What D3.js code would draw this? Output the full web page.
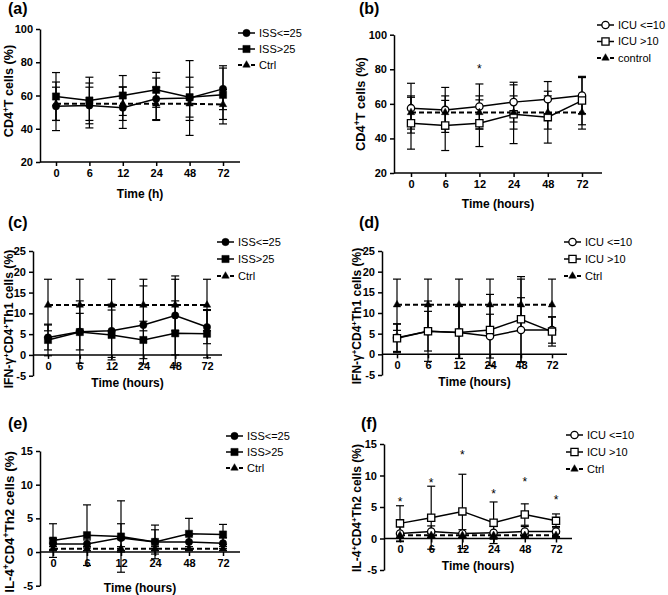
<!DOCTYPE html>
<html>
<head>
<meta charset="utf-8">
<script src="https://cdnjs.cloudflare.com/ajax/libs/d3/7.8.5/d3.min.js"></script>
<style>
  body { margin: 0; background: #fff; }
  svg { display: block; }
  text { font-family: "Liberation Sans", Arial, sans-serif; fill: #000; }
</style>
</head>
<body>
<div id="chart"></div>
<script>
'use strict';

// time points (categorical x axis)
var times = ["0", "6", "12", "24", "48", "72"];

// (a) CD4+ T cells by ISS
var aIssLow = [53.5, 54, 52.7, 58, 58.5, 64];
var aIssLowSd = [14.6, 13.5, 12.5, 12.5, 22.5, 12.5];
var aIssHigh = [59.4, 57, 60, 63.4, 59, 60.4];
var aIssHighSd = [14.4, 14, 12, 10.5, 12, 17.5];
var aCtrl = [55, 55, 55, 55, 55, 54.6];
var aCtrlSd = [10, 10, 10, 10, 10, 9];

// (b) CD4+ T cells by ICU stay
var bIcuLow = [57.5, 56.5, 58.5, 61, 62.7, 64.8];
var bIcuLowSd = [14.4, 13, 13, 11.5, 10.2, 10.4];
var bIcuHigh = [48.8, 47.5, 48.8, 54, 52.3, 61.9];
var bIcuHighSd = [15, 14.5, 13.5, 17, 15, 14];
var bCtrl = [55, 55, 55, 55, 55, 55];
var bCtrlSd = [9.6, 9.6, 9.6, 9.6, 9.6, 9.6];
var bStars = [null, null, 81.5, null, null, null];

// (c) IFN-g+ CD4+ Th1 by ISS
var cIssLow = [4.2, 5.6, 5.8, 7.2, 9.5, 6.7];
var cIssLowSd = [3.0, 4.4, 6.4, 9.4, 9.5, 4.0];
var cIssHigh = [3.6, 5.5, 4.8, 3.6, 5.2, 5.1];
var cIssHighSd = [3.8, 7.5, 6.0, 4.5, 7.8, 5.8];
var cCtrl = [12, 12, 12, 12, 12, 12];
var cCtrlSd = [6.2, 6.2, 6.2, 6.2, 6.2, 6.2];

// (d) IFN-g+ CD4+ Th1 by ICU stay
var dIcuLow = [4.0, 5.6, 5.3, 4.4, 5.9, 5.9];
var dIcuLowSd = [3.3, 4.8, 6.3, 5.3, 7.8, 3.2];
var dIcuHigh = [3.9, 5.6, 5.3, 5.9, 8.5, 5.5];
var dIcuHighSd = [3.5, 7.3, 6.3, 8.6, 10.3, 3.5];
var dCtrl = [12, 12, 12, 12, 12, 12];
var dCtrlSd = [6.2, 6.2, 6.2, 6.2, 6.2, 6.2];

// (e) IL-4+ CD4+ Th2 by ISS
var eIssLow = [1.2, 1.2, 2.1, 1.5, 1.5, 1.3];
var eIssLowSd = [0.8, 0.6, 2.1, 1.8, 1.0, 0.8];
var eIssHigh = [1.7, 2.5, 2.3, 1.5, 2.7, 2.6];
var eIssHighSd = [2.5, 4.5, 5.3, 2.5, 2.3, 1.5];
var eCtrl = [0.5, 0.5, 0.5, 0.5, 0.5, 0.5];
var eCtrlSd = [0.3, 0.3, 0.3, 0.3, 0.3, 0.3];

// (f) IL-4+ CD4+ Th2 by ICU stay
var fIcuLow = [0.8, 1.1, 0.8, 0.9, 1.1, 1.1];
var fIcuLowSd = [1.3, 0.9, 0.6, 1.0, 0.8, 0.8];
var fIcuHigh = [2.4, 3.3, 4.3, 2.5, 3.8, 2.8];
var fIcuHighSd = [2.8, 5.0, 5.9, 3.3, 1.7, 1.1];
var fCtrl = [0.5, 0.5, 0.5, 0.5, 0.5, 0.5];
var fCtrlSd = [0.3, 0.3, 0.3, 0.3, 0.3, 0.3];
var fStars = [6.2, 9.3, 13.7, 7.4, 9.4, 6.5];

var myApp = {};
myApp.w = 668;
myApp.h = 595;

var svg = d3.select("#chart").append("svg")
    .attr("width", myApp.w)
    .attr("height", myApp.h);

function ser(name, values, sd, marker, open, dashed) {
    return { name: name, values: values, sd: sd, marker: marker, open: open, dashed: dashed };
}

// title pieces: [text, isSuperscript]
var titleCD4 = [["CD4", 0], ["+", 1], ["T cells (%)", 0]];
var titleIFN = [["IFN-\u03b3", 0], ["+", 1], ["CD4", 0], ["+", 1], ["Th1 cells (%)", 0]];
var titleIL4 = [["IL-4", 0], ["+", 1], ["CD4", 0], ["+", 1], ["Th2 cells (%)", 0]];

var panels = [
    { label: "(a)", lx: 8, ly: 14, x0: 40, x1: 240, p0: 56, p1: 223, yTop: 29, yBot: 162,
      dom: [20, 100], ticks: [20, 40, 60, 80, 100], axisAt: 20,
      xt: "Time (h)", xtY: 198, yt: titleCD4, ytX: 12.5, ytY: 91, ytSize: 12.6,
      leg: { x: 238, y: 33, dy: 16 }, stars: null,
      series: [ser("ISS<=25", aIssLow, aIssLowSd, d3.symbolCircle, false, false),
               ser("ISS>25", aIssHigh, aIssHighSd, d3.symbolSquare, false, false),
               ser("Ctrl", aCtrl, aCtrlSd, d3.symbolTriangle, false, true)] },
    { label: "(b)", lx: 359, ly: 14, x0: 394, x1: 602, p0: 411, p1: 582, yTop: 34.7, yBot: 173,
      dom: [20, 100], ticks: [20, 40, 60, 80, 100], axisAt: 20,
      xt: "Time (hours)", xtY: 208, yt: titleCD4, ytX: 365, ytY: 104, ytSize: 12.8,
      leg: { x: 597, y: 25, dy: 16.5 }, stars: bStars,
      series: [ser("ICU <=10", bIcuLow, bIcuLowSd, d3.symbolCircle, true, false),
               ser("ICU >10", bIcuHigh, bIcuHighSd, d3.symbolSquare, true, false),
               ser("control", bCtrl, bCtrlSd, d3.symbolTriangle, false, true)] },
    { label: "(c)", lx: 8, ly: 228, x0: 33, x1: 222, p0: 48, p1: 207, yTop: 251, yBot: 375.7,
      dom: [-5, 25], ticks: [-5, 0, 5, 10, 15, 20, 25], axisAt: 0,
      xt: "Time (hours)", xtY: 387, yt: titleIFN, ytX: 13, ytY: 319, ytSize: 12.2,
      leg: { x: 217, y: 242, dy: 17 }, stars: null,
      series: [ser("ISS<=25", cIssLow, cIssLowSd, d3.symbolCircle, false, false),
               ser("ISS>25", cIssHigh, cIssHighSd, d3.symbolSquare, false, false),
               ser("Ctrl", cCtrl, cCtrlSd, d3.symbolTriangle, false, true)] },
    { label: "(d)", lx: 359, ly: 228, x0: 382, x1: 567, p0: 397, p1: 552, yTop: 251, yBot: 375,
      dom: [-5, 25], ticks: [-5, 0, 5, 10, 15, 20, 25], axisAt: 0,
      xt: "Time (hours)", xtY: 386, yt: titleIFN, ytX: 361, ytY: 316, ytSize: 12,
      leg: { x: 564, y: 242, dy: 17 }, stars: null,
      series: [ser("ICU <=10", dIcuLow, dIcuLowSd, d3.symbolCircle, true, false),
               ser("ICU >10", dIcuHigh, dIcuHighSd, d3.symbolSquare, true, false),
               ser("Ctrl", dCtrl, dCtrlSd, d3.symbolTriangle, false, true)] },
    { label: "(e)", lx: 8, ly: 429, x0: 40, x1: 240, p0: 53, p1: 223, yTop: 451, yBot: 585.7,
      dom: [-5, 15], ticks: [-5, 0, 5, 10, 15], axisAt: 0,
      xt: "Time (hours)", xtY: 592, yt: titleIL4, ytX: 13.5, ytY: 522, ytSize: 13.3,
      leg: { x: 226, y: 436, dy: 16 }, stars: null,
      series: [ser("ISS<=25", eIssLow, eIssLowSd, d3.symbolCircle, false, false),
               ser("ISS>25", eIssHigh, eIssHighSd, d3.symbolSquare, false, false),
               ser("Ctrl", eCtrl, eCtrlSd, d3.symbolTriangle, false, true)] },
    { label: "(f)", lx: 361, ly: 429, x0: 384, x1: 572, p0: 400, p1: 556, yTop: 444, yBot: 570,
      dom: [-5, 15], ticks: [-5, 0, 5, 10, 15], axisAt: 0,
      xt: "Time (hours)", xtY: 570, yt: titleIL4, ytX: 361, ytY: 508, ytSize: 12,
      leg: { x: 566, y: 435, dy: 17 }, stars: fStars,
      series: [ser("ICU <=10", fIcuLow, fIcuLowSd, d3.symbolCircle, true, false),
               ser("ICU >10", fIcuHigh, fIcuHighSd, d3.symbolSquare, true, false),
               ser("Ctrl", fCtrl, fCtrlSd, d3.symbolTriangle, false, true)] }
];

function markerSize(sym) {
    if (sym === d3.symbolSquare) return 52;
    if (sym === d3.symbolTriangle) return 24;
    return 42;
}

function drawMarker(g, sym, open, x, y) {
    g.append("path")
        .attr("d", d3.symbol().type(sym).size(markerSize(sym))())
        .attr("transform", "translate(" + x + "," + y + ")")
        .attr("fill", open ? "#fff" : "#000")
        .attr("stroke", "#000")
        .attr("stroke-width", open ? 1.3 : 0.5);
}

function drawPanel(p) {
    var g = svg.append("g");
    var x = d3.scalePoint().domain(times).range([p.p0, p.p1]);
    var y = d3.scaleLinear().domain(p.dom).range([p.yBot, p.yTop]);

    // panel label
    g.append("text").attr("x", p.lx).attr("y", p.ly)
        .attr("font-size", 16).attr("font-weight", "bold").text(p.label);

    // y axis
    var yAxis = d3.axisLeft(y).tickValues(p.ticks).tickSize(4).tickSizeOuter(0)
        .tickFormat(function (d) { return String(d); });
    var yg = g.append("g").attr("transform", "translate(" + p.x0 + ",0)").call(yAxis);
    yg.selectAll("text").attr("font-size", 11).attr("font-weight", "bold")
        .attr("font-family", "Liberation Sans, Arial, sans-serif");
    yg.selectAll("line, path").attr("stroke", "#000").attr("stroke-width", 1.5);

    // x axis
    var ay = y(p.axisAt);
    var xAxis = d3.axisBottom(x).tickSize(4).tickSizeOuter(0);
    var xg = g.append("g").attr("transform", "translate(0," + ay + ")").call(xAxis);
    xg.select(".domain").remove();
    xg.append("line").attr("x1", p.x0).attr("x2", p.x1).attr("stroke", "#000").attr("stroke-width", 1.5);
    xg.selectAll("text").attr("font-size", 11).attr("font-weight", "bold")
        .attr("font-family", "Liberation Sans, Arial, sans-serif");
    xg.selectAll(".tick line").attr("stroke", "#000").attr("stroke-width", 1.5);

    // axis titles
    g.append("text").attr("x", (p.x0 + p.x1) / 2).attr("y", p.xtY)
        .attr("text-anchor", "middle").attr("font-size", 12).attr("font-weight", "bold").text(p.xt);

    var yt = g.append("text")
        .attr("transform", "translate(" + p.ytX + "," + p.ytY + ") rotate(-90)")
        .attr("text-anchor", "middle").attr("font-size", p.ytSize).attr("font-weight", "bold");
    p.yt.forEach(function (piece) {
        var t = yt.append("tspan").text(piece[0]);
        if (piece[1]) t.attr("font-size", p.ytSize * 0.65).attr("baseline-shift", "super");
    });

    // error bars
    p.series.forEach(function (s) {
        var eb = g.append("g").attr("stroke", "#000").attr("stroke-width", 1.2);
        s.values.forEach(function (v, i) {
            var cx = x(times[i]);
            var hi = y(v + s.sd[i]), lo = y(v - s.sd[i]);
            eb.append("line").attr("x1", cx).attr("x2", cx).attr("y1", hi).attr("y2", lo);
            eb.append("line").attr("x1", cx - 4).attr("x2", cx + 4).attr("y1", hi).attr("y2", hi);
            eb.append("line").attr("x1", cx - 4).attr("x2", cx + 4).attr("y1", lo).attr("y2", lo);
        });
    });

    // lines
    var line = d3.line()
        .x(function (d, i) { return x(times[i]); })
        .y(function (d) { return y(d); });
    p.series.forEach(function (s) {
        g.append("path").datum(s.values).attr("d", line)
            .attr("fill", "none").attr("stroke", "#000")
            .attr("stroke-width", s.dashed ? 2 : 1.5)
            .attr("stroke-dasharray", s.dashed ? "5,3" : null);
    });

    // markers
    p.series.forEach(function (s) {
        s.values.forEach(function (v, i) {
            drawMarker(g, s.marker, s.open, x(times[i]), y(v));
        });
    });

    // significance stars
    if (p.stars) {
        p.stars.forEach(function (v, i) {
            if (v === null) return;
            g.append("text").attr("x", x(times[i])).attr("y", y(v))
                .attr("dy", "0.55em").attr("text-anchor", "middle")
                .attr("font-size", 12).text("*");
        });
    }

    // legend
    p.series.forEach(function (s, i) {
        var ly = p.leg.y + i * p.leg.dy;
        g.append("line").attr("x1", p.leg.x).attr("x2", p.leg.x + 17)
            .attr("y1", ly).attr("y2", ly).attr("stroke", "#000")
            .attr("stroke-width", s.dashed ? 2 : 1.5)
            .attr("stroke-dasharray", s.dashed ? "4,2.5" : null);
        drawMarker(g, s.marker, s.open, p.leg.x + 8.5, ly);
        g.append("text").attr("x", p.leg.x + 21).attr("y", ly).attr("dy", "0.35em")
            .attr("font-size", 11).text(s.name);
    });
}

panels.forEach(drawPanel);
</script>
</body>
</html>
